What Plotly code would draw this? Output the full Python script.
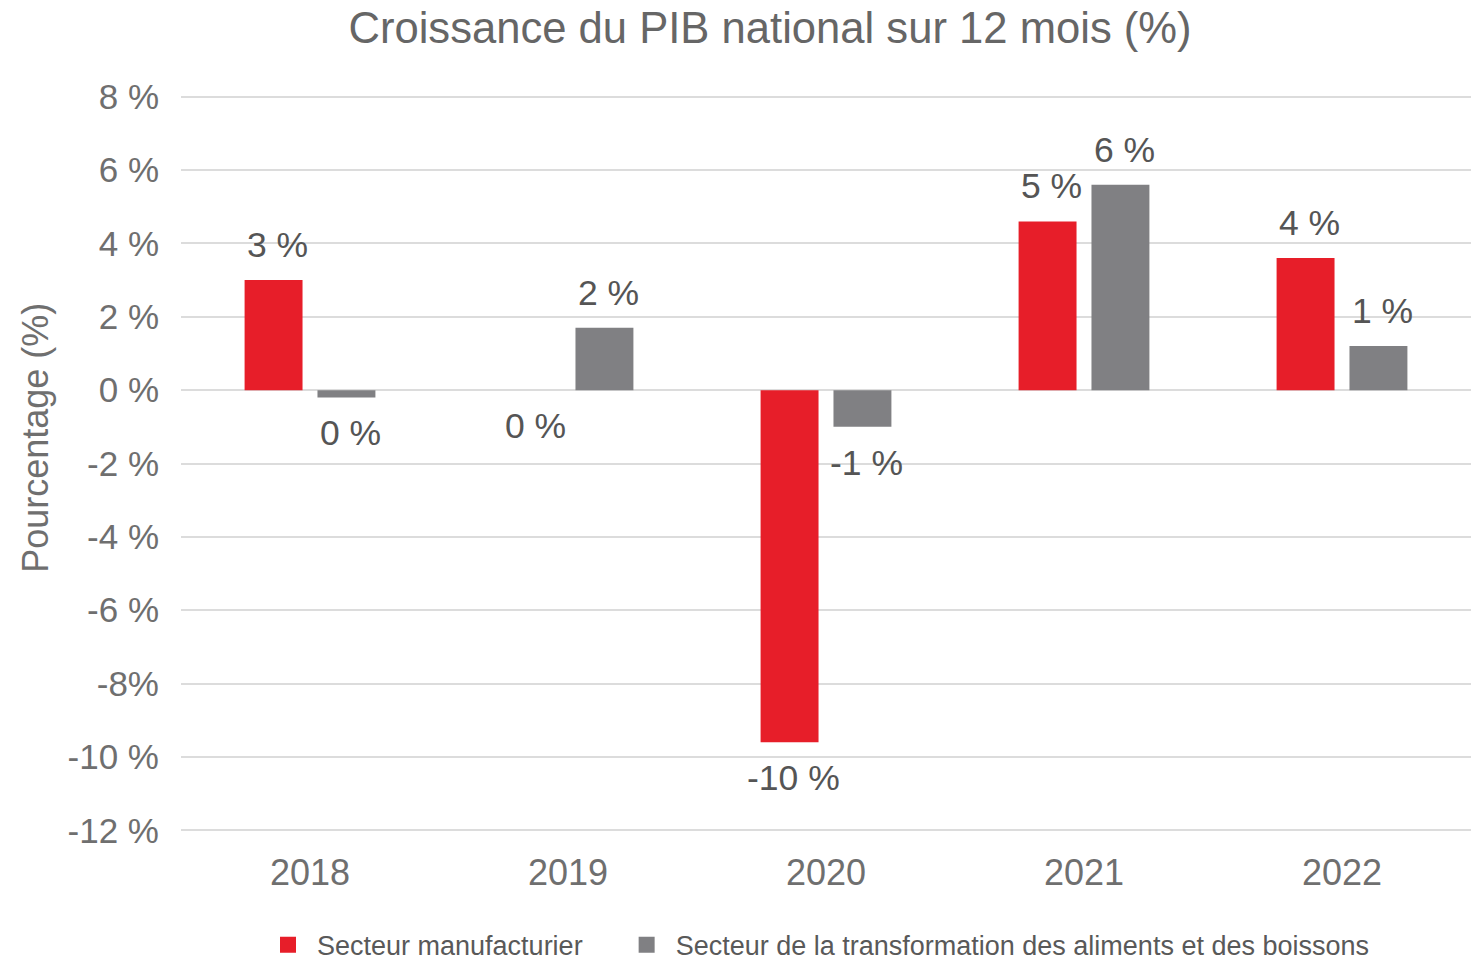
import plotly.graph_objects as go

years = ["2018", "2019", "2020", "2021", "2022"]
manufacturier = [3.0, 0.0, -9.6, 4.6, 3.6]
aliments_boissons = [-0.2, 1.7, -1.0, 5.6, 1.2]
series_names = ["Secteur manufacturier",
                "Secteur de la transformation des aliments et des boissons"]
tick_vals = [8, 6, 4, 2, 0, -2, -4, -6, -8, -10, -12]
tick_text = ["8 %", "6 %", "4 %", "2 %", "0 %", "-2 %", "-4 %", "-6 %", "-8%", "-10 %", "-12 %"]

RED = "#E71E29"
GRAY = "#808083"
FONT = "Liberation Sans, Arial, sans-serif"
NBSP = "\u00a0"

fig = go.Figure()
for k, (name, vals, col) in enumerate([(series_names[0], manufacturier, RED),
                                       (series_names[1], aliments_boissons, GRAY)]):
    fig.add_trace(go.Bar(x=years, y=vals, name=name, marker_color=col,
                         marker_line_width=0, showlegend=False))
    # legend proxy with a larger square symbol (padding widens the gap between entries)
    legend_name = name + (NBSP * 4 if k == 0 else "")
    fig.add_trace(go.Scatter(x=[None], y=[None], mode="markers", name=legend_name,
                             marker=dict(symbol="square", size=18, color=col),
                             showlegend=True))

# data labels (x given as category index)
for vals, shift in [(manufacturier, -32.5), (aliments_boissons, 40.5)]:
    for i, v in enumerate(vals):
        pos = v > 0
        fig.add_annotation(x=i, y=v, xref="x", yref="y",
                           text=f"{int(round(v))} %", showarrow=False,
                           xshift=shift, yshift=13 if pos else -14,
                           yanchor="bottom" if pos else "top",
                           font=dict(family=FONT, size=35.5, color="#555555"))

# y-axis title
fig.add_annotation(text="Pourcentage (%)", textangle=-90, showarrow=False,
                   xref="paper", yref="paper", x=(36 - 181) / 1290, y=(834 - 438) / 740.6,
                   xanchor="center", yanchor="middle",
                   font=dict(family=FONT, size=36, color="#6F6F6F"))

fig.update_layout(
    width=1471, height=959,
    margin=dict(l=181, r=0, t=93, b=125, autoexpand=False),
    paper_bgcolor="white", plot_bgcolor="white",
    barmode="group", bargap=0.435, bargroupgap=0.205,
    title=dict(text="Croissance du PIB national sur 12 mois (%)",
               xref="container", yref="container", x=770 / 1471, y=1 - 28 / 959,
               xanchor="center", yanchor="middle",
               font=dict(family=FONT, size=43.6, color="#666666")),
    font=dict(family=FONT, color="#666666"),
    showlegend=True,
    legend=dict(orientation="h", x=0.5 - 9 / 1290, xanchor="center", y=-0.150, yanchor="middle",
                font=dict(family=FONT, size=27, color="#595959"),
                itemsizing="trace", itemwidth=48, traceorder="normal"),
    yaxis=dict(range=[-12.1, 8.1], tickvals=tick_vals, ticktext=tick_text,
               showgrid=True, gridcolor="#DCDCDC", gridwidth=2,
               zeroline=True, zerolinecolor="#DCDCDC", zerolinewidth=2,
               showline=False, ticks="", ticklabelstandoff=21,
               tickfont=dict(family=FONT, size=35, color="#6F6F6F")),
    xaxis=dict(type="category", categoryorder="array", categoryarray=years,
               range=[-0.5, len(years) - 0.5],
               showgrid=False, showline=False, ticks="", ticklabelstandoff=14,
               tickfont=dict(family=FONT, size=36, color="#6F6F6F")),
)

fig.write_html("out.html", config={"displayModeBar": False},
               post_script="document.body.style.margin='0px';document.body.style.overflow='hidden';")
